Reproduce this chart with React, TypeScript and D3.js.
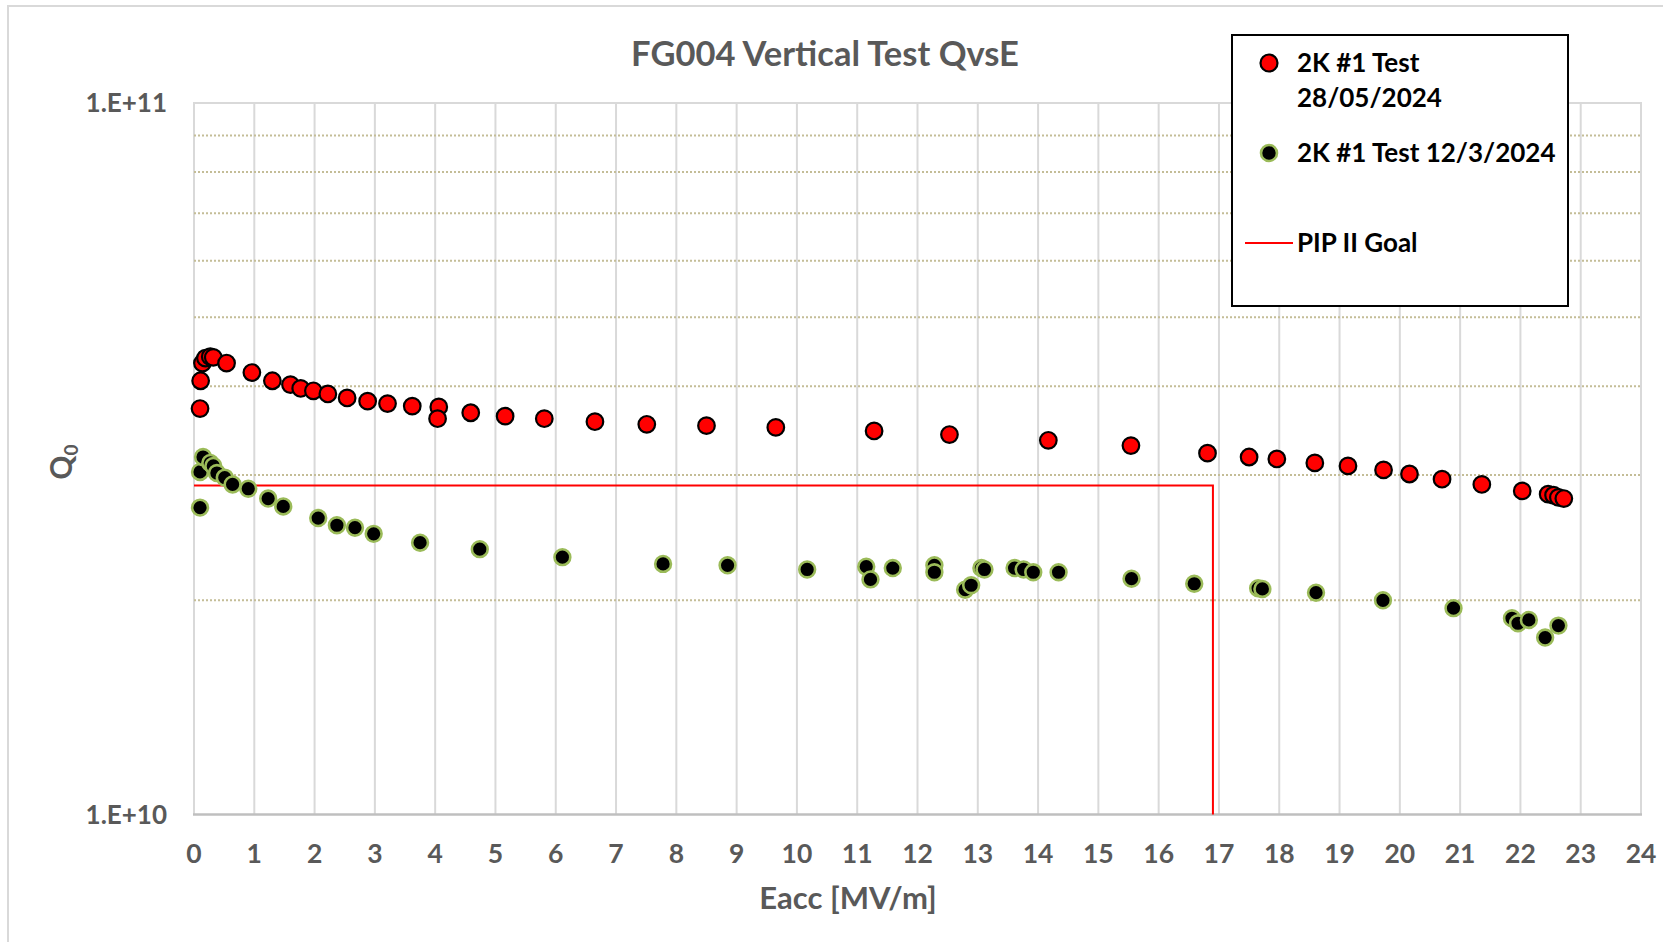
import React, { useEffect, useRef } from 'react';
import * as d3 from 'd3';

// 2K #1 Test 28/05/2024 (red)
const redE = [0.10, 0.11, 0.14, 0.19, 0.27, 0.32, 0.54, 0.96, 1.30, 1.60, 1.77, 1.98, 2.22, 2.54, 2.88, 3.21, 3.62, 4.06, 4.04, 4.59, 5.16, 5.81, 6.65, 7.51, 8.50, 9.65, 11.28, 12.53, 14.17, 15.54, 16.81, 17.50, 17.96, 18.59, 19.14, 19.73, 20.16, 20.70, 21.36, 22.03, 22.46, 22.55, 22.63, 22.72];
const redQ = [3.72e10, 4.07e10, 4.31e10, 4.38e10, 4.40e10, 4.39e10, 4.31e10, 4.18e10, 4.07e10, 4.02e10, 3.97e10, 3.94e10, 3.90e10, 3.85e10, 3.81e10, 3.78e10, 3.75e10, 3.74e10, 3.60e10, 3.67e10, 3.63e10, 3.60e10, 3.565e10, 3.535e10, 3.52e10, 3.50e10, 3.46e10, 3.42e10, 3.357e10, 3.30e10, 3.22e10, 3.18e10, 3.16e10, 3.12e10, 3.09e10, 3.05e10, 3.01e10, 2.96e10, 2.91e10, 2.85e10, 2.82e10, 2.81e10, 2.79e10, 2.78e10];

// 2K #1 Test 12/3/2024 (black / green)
const greenE = [0.10, 0.10, 0.15, 0.27, 0.32, 0.38, 0.51, 0.64, 0.90, 1.23, 1.48, 2.06, 2.37, 2.67, 2.98, 3.75, 4.74, 6.11, 7.78, 8.85, 10.17, 11.15, 11.22, 11.59, 12.28, 12.28, 12.79, 12.89, 13.06, 13.11, 13.61, 13.76, 13.92, 14.34, 15.55, 16.59, 17.65, 17.72, 18.61, 19.72, 20.89, 21.86, 21.96, 22.14, 22.41, 22.63];
const greenQ = [2.70e10, 3.03e10, 3.18e10, 3.12e10, 3.09e10, 3.02e10, 2.975e10, 2.91e10, 2.87e10, 2.78e10, 2.71e10, 2.61e10, 2.55e10, 2.53e10, 2.48e10, 2.41e10, 2.36e10, 2.30e10, 2.25e10, 2.24e10, 2.21e10, 2.23e10, 2.14e10, 2.22e10, 2.24e10, 2.19e10, 2.07e10, 2.10e10, 2.22e10, 2.21e10, 2.22e10, 2.21e10, 2.19e10, 2.19e10, 2.145e10, 2.11e10, 2.08e10, 2.075e10, 2.05e10, 2.00e10, 1.95e10, 1.887e10, 1.857e10, 1.877e10, 1.773e10, 1.843e10];

// PIP II goal
const goalE = [0, 16.9, 16.9];
const goalQ = [2.9e10, 2.9e10, 1e10];

const xTicks = d3.range(0, 25);
const yGrid = [2e10, 3e10, 4e10, 5e10, 6e10, 7e10, 8e10, 9e10];
const yTicks = [1e10, 1e11];
const yTickLabels = ['1.E+10', '1.E+11'];

const legendLabels = [['2K #1 Test', '28/05/2024'], ['2K #1 Test 12/3/2024'], ['PIP II Goal']];

const FONT = 'Lato, Carlito, Calibri, sans-serif';

export default function App() {
  const svgRef = useRef(null);

  useEffect(() => {
    const svg = d3.select(svgRef.current);
    svg.selectAll('*').remove();

    const left = 194, right = 1641, top = 103, bottom = 814.5;
    const x = d3.scaleLinear().domain([0, 24]).range([left, right]);
    const y = d3.scaleLog().domain([1e10, 1e11]).range([bottom, top]);

    // chart border
    svg.append('path')
      .attr('d', `M8,945 L8,6 L1670,6`)
      .attr('fill', 'none')
      .attr('stroke', '#D9D9D9')
      .attr('stroke-width', 2);

    // title
    svg.append('text')
      .text('FG004 Vertical Test QvsE')
      .attr('x', 825).attr('y', 66)
      .attr('text-anchor', 'middle')
      .style('font-family', FONT).style('font-weight', 'bold')
      .style('font-size', '34.5px').style('fill', '#595959');

    // vertical grid
    svg.append('g').selectAll('line')
      .data(xTicks).enter().append('line')
      .attr('x1', d => x(d)).attr('x2', d => x(d))
      .attr('y1', top).attr('y2', bottom)
      .attr('stroke', '#D9D9D9').attr('stroke-width', 2);

    // horizontal dotted grid
    svg.append('g').selectAll('line')
      .data(yGrid).enter().append('line')
      .attr('x1', left).attr('x2', right)
      .attr('y1', d => y(d)).attr('y2', d => y(d))
      .attr('stroke', '#C4BD97').attr('stroke-width', 2)
      .attr('stroke-dasharray', '2,2');

    // top and bottom
    svg.append('line')
      .attr('x1', left - 1).attr('x2', right + 1)
      .attr('y1', y(1e11)).attr('y2', y(1e11))
      .attr('stroke', '#D9D9D9').attr('stroke-width', 2);
    svg.append('line')
      .attr('x1', left - 1).attr('x2', right + 1)
      .attr('y1', y(1e10)).attr('y2', y(1e10))
      .attr('stroke', '#BFBFBF').attr('stroke-width', 2.5);

    // x tick labels
    svg.append('g').selectAll('text')
      .data(xTicks).enter().append('text')
      .text(d => d)
      .attr('x', d => x(d)).attr('y', 862.5)
      .attr('text-anchor', 'middle')
      .style('font-family', FONT).style('font-weight', 'bold')
      .style('font-size', '26.5px').style('fill', '#595959');

    // y tick labels
    svg.append('g').selectAll('text')
      .data(yTicks).enter().append('text')
      .text((d, i) => yTickLabels[i])
      .attr('x', 167).attr('y', d => y(d) + 9)
      .attr('text-anchor', 'end')
      .style('font-family', FONT).style('font-weight', 'bold')
      .style('font-size', '26px').style('fill', '#595959');

    // axis titles
    svg.append('text')
      .text('Eacc [MV/m]')
      .attr('x', 848).attr('y', 909)
      .attr('text-anchor', 'middle')
      .style('font-family', FONT).style('font-weight', 'bold')
      .style('font-size', '31px').style('fill', '#595959');

    const q = svg.append('text')
      .attr('transform', 'translate(72,462) rotate(-90)')
      .attr('text-anchor', 'middle')
      .style('font-family', FONT).style('font-weight', 'bold')
      .style('font-size', '30px').style('fill', '#595959');
    q.append('tspan').text('Q');
    q.append('tspan').text('0').attr('dy', 6).style('font-size', '19px');

    // PIP II goal line
    const line = d3.line().x(d => x(d[0])).y(d => y(d[1]));
    svg.append('path')
      .datum(goalE.map((e, i) => [e, goalQ[i]]))
      .attr('d', line)
      .attr('fill', 'none')
      .attr('stroke', '#FF0000').attr('stroke-width', 2);

    // green series
    svg.append('g').selectAll('circle')
      .data(greenE.map((e, i) => [e, greenQ[i]]))
      .enter().append('circle')
      .attr('cx', d => x(d[0])).attr('cy', d => y(d[1]))
      .attr('r', 7.9)
      .attr('fill', '#000000')
      .attr('stroke', '#9BBB59').attr('stroke-width', 2.6);

    // red series
    svg.append('g').selectAll('circle')
      .data(redE.map((e, i) => [e, redQ[i]]))
      .enter().append('circle')
      .attr('cx', d => x(d[0])).attr('cy', d => y(d[1]))
      .attr('r', 8.3)
      .attr('fill', '#FF0000')
      .attr('stroke', '#000000').attr('stroke-width', 2.2);

    // legend
    const lg = svg.append('g');
    lg.append('rect')
      .attr('x', 1232).attr('y', 35).attr('width', 336).attr('height', 271)
      .attr('fill', '#FFFFFF').attr('stroke', '#000000').attr('stroke-width', 2);
    lg.append('circle').attr('cx', 1269).attr('cy', 63).attr('r', 8.5)
      .attr('fill', '#FF0000').attr('stroke', '#000000').attr('stroke-width', 2.2);
    lg.append('circle').attr('cx', 1269).attr('cy', 153).attr('r', 8)
      .attr('fill', '#000000').attr('stroke', '#9BBB59').attr('stroke-width', 2.6);
    lg.append('line').attr('x1', 1245).attr('x2', 1293).attr('y1', 243).attr('y2', 243)
      .attr('stroke', '#FF0000').attr('stroke-width', 2);
    const baselines = [[72, 107], [162], [252]];
    legendLabels.forEach((lines, i) => {
      lines.forEach((t, j) => {
        lg.append('text').text(t)
          .attr('x', 1297).attr('y', baselines[i][j])
          .style('font-family', FONT).style('font-weight', 'bold')
          .style('font-size', '26px').style('fill', '#000000');
      });
    });
  }, []);

  return (
    <svg ref={svgRef} width={1663} height={942}
      style={{ position: 'absolute', left: 0, top: 0, display: 'block', background: '#FFFFFF' }} />
  );
}
